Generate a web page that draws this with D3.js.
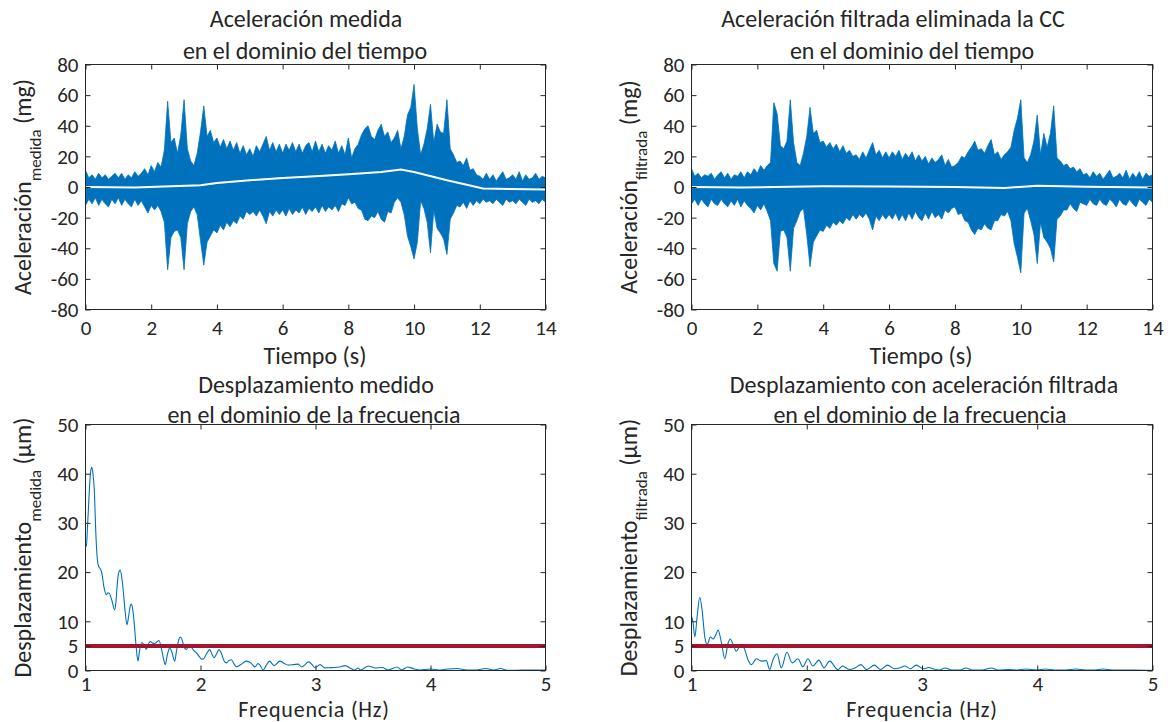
<!DOCTYPE html>
<html>
<head>
<meta charset="utf-8">
<script src="https://cdn.jsdelivr.net/npm/d3@7"></script>
<style>
  html, body { margin: 0; padding: 0; background: #ffffff; }
  svg { display: block; }
  text { font-family: Carlito, Calibri, Lato, sans-serif; font-weight: 300; fill: #262626; }
</style>
</head>
<body>
<svg id="fig" width="1171" height="722"></svg>
<script>
// ---------- data ----------
// sample instants of the time records (s), 0.1 s apart
const tiempo = d3.range(141).map(i => i / 10);

// measured acceleration: upper / lower envelope of the record (mg)
const medidaSup = [
  11, 6, 8, 5, 9, 6, 8, 5, 7, 9,
  6, 9, 5, 8, 6, 10, 7, 9, 12, 8,
  14, 10, 16, 13, 24, 56, 29, 32, 22, 34,
  57, 25, 17, 14, 22, 36, 53, 33, 37, 29,
  32, 26, 31, 25, 30, 24, 29, 22, 27, 21,
  25, 20, 27, 23, 28, 33, 24, 29, 23, 28,
  22, 28, 24, 29, 23, 28, 22, 27, 29, 23,
  30, 23, 28, 22, 27, 24, 30, 22, 27, 21,
  32, 19, 25, 28, 34, 38, 40, 33, 31, 37,
  41, 33, 36, 29, 32, 37, 25, 33, 47, 52,
  67, 38, 21, 28, 38, 54, 29, 41, 36, 35,
  57, 25, 21, 16, 17, 14, 19, 11, 12, 8,
  7, 5, 9, 5, 8, 4, 7, 10, 5, 6,
  8, 5, 10, 4, 8, 5, 6, 9, 5, 7,
  6
];
const medidaInf = [
  -12, -8, -11, -7, -12, -8, -11, -13, -8, -11,
  -7, -12, -8, -11, -13, -8, -12, -9, -13, -17,
  -12, -15, -12, -16, -23, -54, -33, -29, -28, -33,
  -54, -24, -16, -13, -18, -35, -51, -36, -32, -28,
  -30, -25, -28, -23, -26, -22, -24, -19, -21, -16,
  -18, -16, -19, -15, -19, -24, -16, -19, -15, -18,
  -15, -19, -14, -18, -15, -17, -13, -18, -14, -16,
  -13, -17, -12, -16, -13, -15, -12, -16, -11, -12,
  -7, -11, -10, -14, -15, -21, -22, -19, -20, -16,
  -21, -23, -16, -17, -10, -7, -10, -18, -32, -39,
  -47, -36, -9, -14, -23, -43, -15, -27, -30, -34,
  -44, -21, -17, -12, -13, -10, -14, -9, -12, -9,
  -11, -8, -10, -9, -11, -8, -10, -12, -8, -10,
  -9, -11, -8, -10, -12, -8, -10, -9, -11, -8,
  -10
];

// filtered acceleration (DC removed): upper / lower envelope (mg)
const filtradaSup = [
  12, 7, 9, 6, 8, 7, 9, 5, 8, 10,
  6, 9, 5, 8, 7, 10, 6, 10, 8, 12,
  9, 14, 11, 14, 16, 55, 48, 27, 25, 30,
  57, 29, 16, 14, 22, 33, 52, 35, 37, 29,
  30, 26, 29, 25, 28, 23, 27, 22, 24, 20,
  21, 18, 23, 19, 24, 29, 21, 24, 19, 23,
  19, 23, 20, 24, 18, 22, 19, 23, 17, 21,
  17, 20, 15, 19, 16, 18, 21, 14, 18, 13,
  14, 16, 20, 19, 23, 26, 30, 24, 25, 22,
  27, 31, 21, 23, 18, 21, 23, 26, 37, 45,
  57, 19, 16, 21, 30, 47, 21, 35, 26, 35,
  53, 19, 17, 14, 15, 12, 13, 10, 12, 8,
  9, 6, 10, 7, 9, 5, 8, 11, 6, 7,
  9, 6, 11, 5, 9, 6, 10, 5, 9, 7,
  8
];
const filtradaInf = [
  -11, -8, -12, -8, -11, -13, -8, -11, -12, -8,
  -11, -13, -9, -12, -8, -13, -9, -12, -14, -17,
  -12, -15, -11, -16, -22, -50, -55, -29, -28, -33,
  -55, -27, -22, -16, -14, -31, -52, -36, -32, -28,
  -29, -25, -27, -23, -25, -22, -24, -20, -22, -18,
  -21, -18, -20, -17, -21, -28, -19, -22, -18, -21,
  -18, -21, -17, -22, -18, -22, -17, -21, -16, -20,
  -22, -17, -21, -16, -20, -18, -21, -15, -17, -14,
  -13, -18, -17, -22, -23, -28, -31, -27, -28, -24,
  -27, -28, -22, -22, -18, -19, -16, -22, -37, -46,
  -56, -17, -14, -22, -31, -50, -23, -33, -36, -40,
  -49, -21, -19, -15, -15, -11, -14, -16, -10, -11,
  -12, -8, -11, -12, -8, -11, -12, -8, -10, -13,
  -8, -11, -12, -8, -11, -13, -8, -10, -12, -8,
  -10
];

// slow (DC) component of each record: [time s, mg]
const dcMedida = [
  [0, 0], [1.5, -0.4], [3.5, 1.1], [4, 2.6], [5, 4.4], [6, 5.9], [7, 7.0],
  [8, 8.3], [9, 9.8], [9.6, 11.4], [10, 9.8], [11, 4.4], [12.1, -1.0], [14, -1.7]
];
const dcFiltrada = [
  [0, 0], [1.5, -0.4], [2.5, 0], [4, 0.5], [6, 0.3], [8, 0], [9.5, -0.6],
  [10.5, 0.8], [12, 0.2], [14, -0.3]
];

// displacement spectra: [frequency Hz, µm]
const espectroMedida = [
  [1.000, 25.7], [1.008, 25.2], [1.015, 28.0], [1.029, 34.6], [1.045, 40.5], [1.055, 41.3],
  [1.065, 40.0], [1.078, 36.0], [1.088, 29.0], [1.097, 24.5], [1.113, 21.2], [1.125, 20.8],
  [1.142, 19.8], [1.160, 17.0], [1.180, 15.4], [1.195, 15.8], [1.209, 15.6], [1.230, 14.2],
  [1.253, 12.3], [1.265, 14.0], [1.276, 17.5], [1.290, 20.0], [1.302, 20.4], [1.315, 19.0],
  [1.325, 17.0], [1.345, 12.0], [1.360, 9.3], [1.375, 11.0], [1.390, 13.2], [1.398, 13.5],
  [1.410, 12.5], [1.421, 10.3], [1.440, 5.0], [1.456, 1.9], [1.470, 4.0], [1.490, 5.7],
  [1.510, 5.2], [1.529, 4.3], [1.545, 5.3], [1.564, 5.9], [1.580, 5.6], [1.600, 5.5],
  [1.620, 5.8], [1.639, 6.1], [1.660, 4.5], [1.680, 2.2], [1.694, 1.2], [1.710, 3.0],
  [1.732, 4.6], [1.750, 3.8], [1.776, 1.9], [1.790, 3.8], [1.810, 6.2], [1.825, 6.8],
  [1.840, 6.2], [1.860, 4.6], [1.877, 4.3], [1.895, 4.8], [1.912, 4.9], [1.940, 4.1],
  [1.964, 3.6], [1.990, 2.8], [2.010, 2.3], [2.028, 2.4], [2.050, 3.3], [2.080, 4.25],
  [2.100, 3.3], [2.118, 2.6], [2.140, 3.4], [2.160, 4.25], [2.180, 3.6], [2.200, 2.2],
  [2.226, 1.55], [2.250, 2.1], [2.270, 2.2], [2.290, 1.4], [2.313, 0.74], [2.350, 1.2],
  [2.400, 1.9], [2.440, 1.5], [2.473, 0.74], [2.500, 1.4], [2.520, 1.0], [2.545, 0.1],
  [2.570, 1.0], [2.600, 1.9], [2.640, 1.0], [2.690, 1.9], [2.730, 1.4], [2.763, 1.1],
  [2.810, 1.2], [2.850, 1.3], [2.880, 0.74], [2.910, 1.2], [2.937, 1.75], [2.970, 1.2],
  [2.995, 0.55], [3.040, 1.2], [3.080, 0.54], [3.110, 0.55], [3.150, 0.6], [3.210, 0.7],
  [3.260, 1.0], [3.300, 0.5], [3.340, 0.07], [3.370, 0.5], [3.390, 0.1], [3.460, 0.9],
  [3.520, 0.5], [3.580, 0.6], [3.630, 0.1], [3.710, 0.7], [3.750, 0.1], [3.800, 0.7],
  [3.860, 0.3], [3.910, 0.1], [4.000, 0.3], [4.070, 0.1], [4.150, 0.3], [4.230, 0.4],
  [4.320, 0.1], [4.400, 0.1], [4.480, 0.4], [4.550, 0.1], [4.610, 0.4], [4.670, 0.05],
  [4.740, 0.05], [4.850, 0.1], [5.000, 0.1]
];
const espectroFiltrada = [
  [1.000, 11.0], [1.012, 10.0], [1.029, 6.8], [1.049, 11.0], [1.072, 14.9], [1.092, 12.3],
  [1.115, 6.9], [1.136, 5.3], [1.165, 6.8], [1.188, 6.4], [1.210, 7.2], [1.231, 8.2],
  [1.260, 5.6], [1.289, 2.4], [1.318, 5.6], [1.338, 6.4], [1.360, 5.3], [1.390, 3.9],
  [1.420, 5.06], [1.439, 5.3], [1.460, 4.4], [1.490, 2.2], [1.520, 1.2], [1.563, 2.4],
  [1.606, 1.9], [1.649, 2.0], [1.678, 0.2], [1.707, 2.2], [1.742, 3.4], [1.779, 0.54],
  [1.828, 3.7], [1.874, 1.55], [1.924, 2.4], [1.966, 0.74], [2.010, 2.4], [2.053, 0.9],
  [2.105, 2.1], [2.150, 0.54], [2.198, 1.9], [2.270, 0.2], [2.310, 0.9], [2.370, 0.2],
  [2.420, 0.54], [2.470, 1.2], [2.520, 0.2], [2.587, 1.1], [2.640, 0.2], [2.700, 1.1],
  [2.760, 0.35], [2.810, 0.54], [2.850, 0.9], [2.900, 0.35], [2.950, 1.1], [3.010, 0.35],
  [3.060, 0.6], [3.100, 0.3], [3.150, 0.1], [3.200, 0.5], [3.260, 0.1], [3.330, 0.1],
  [3.380, 0.5], [3.440, 0.1], [3.520, 0.1], [3.600, 0.5], [3.660, 0.1], [3.750, 0.2],
  [3.830, 0.1], [3.900, 0.3], [4.000, 0.1], [4.070, 0.3], [4.150, 0.1], [4.250, 0.1],
  [4.330, 0.3], [4.420, 0.1], [4.500, 0.1], [4.570, 0.3], [4.650, 0.1], [4.750, 0.1],
  [4.850, 0.1], [5.000, 0.05]
];

// displacement limit (µm)
const umbral = 5;

// tick values
const ticksTiempo = [0, 2, 4, 6, 8, 10, 12, 14];
const ticksAcel = [-80, -60, -40, -20, 0, 20, 40, 60, 80];
const ticksFrec = [1, 2, 3, 4, 5];
const ticksDesp = [0, 5, 10, 20, 30, 40, 50];

// ---------- drawing ----------
const svg = d3.select("#fig");
const AXIS = "#262626";
const AZUL = "#0072BD";
const ROJO = "#A2142F";
const TICK_FONT = 21;
const LABEL_FONT = 24;

function styleAxis(sel) {
  sel.attr("font-family", null).attr("font-size", null);
  sel.select(".domain").remove();
  sel.selectAll(".tick line").attr("stroke", AXIS).attr("stroke-width", 1);
  sel.selectAll(".tick text").attr("fill", AXIS).style("font-size", TICK_FONT + "px");
}

function panel(p) {
  const x = d3.scaleLinear().domain(p.xDomain).range([p.left, p.right]);
  const y = d3.scaleLinear().domain(p.yDomain).range([p.bottom, p.top]);
  const g = svg.append("g");

  g.append("clipPath").attr("id", "clip-" + p.id)
    .append("rect")
    .attr("x", p.left).attr("y", p.top)
    .attr("width", p.right - p.left).attr("height", p.bottom - p.top);

  const plot = g.append("g").attr("clip-path", `url(#clip-${p.id})`);
  p.draw(plot, x, y);

  const fmt = d => String(d);
  g.append("g").attr("transform", `translate(0,${p.bottom})`)
    .call(d3.axisBottom(x).tickValues(p.xTicks).tickSize(-5).tickPadding(p.xPad).tickFormat(fmt))
    .call(styleAxis);
  g.append("g").attr("transform", `translate(0,${p.top})`)
    .call(d3.axisTop(x).tickValues(p.xTicks).tickSize(-5).tickFormat(""))
    .call(styleAxis);
  g.append("g").attr("transform", `translate(${p.left},0)`)
    .call(d3.axisLeft(y).tickValues(p.yTicks).tickSize(-5).tickPadding(7).tickFormat(fmt))
    .call(styleAxis);
  g.append("g").attr("transform", `translate(${p.right},0)`)
    .call(d3.axisRight(y).tickValues(p.yTicks).tickSize(-5).tickFormat(""))
    .call(styleAxis);

  g.append("rect")
    .attr("x", p.left).attr("y", p.top)
    .attr("width", p.right - p.left).attr("height", p.bottom - p.top)
    .attr("fill", "none").attr("stroke", AXIS).attr("stroke-width", 1);

  // two-line title
  p.title.forEach((t, i) => {
    g.append("text")
      .attr("x", t.cx).attr("y", p.titleY[i])
      .attr("text-anchor", "middle")
      .style("font-size", LABEL_FONT + "px")
      .text(t.text);
  });

  // x label
  g.append("text")
    .attr("x", p.xLabelX).attr("y", p.xLabelY)
    .attr("text-anchor", "middle")
    .style("font-size", p.xLabelFont + "px")
    .style("letter-spacing", p.xLabelSpacing + "px")
    .text(p.xLabel);

  // y label with subscript
  const yl = g.append("text")
    .attr("transform", `translate(${p.left - 55},${(p.top + p.bottom) / 2}) rotate(-90)`)
    .attr("text-anchor", "middle")
    .style("font-size", LABEL_FONT + "px");
  yl.append("tspan").text(p.yLabel[0]);
  yl.append("tspan").attr("dy", 10).style("font-size", "17px").text(p.yLabel[1]);
  yl.append("tspan").attr("dy", -10).text("\u00a0" + p.yLabel[2]);
}

function senal(sup, inf, dc) {
  return (plot, x, y) => {
    const area = d3.area()
      .x((d, i) => x(tiempo[i]))
      .y0((d, i) => y(inf[i]))
      .y1((d, i) => y(sup[i]));
    plot.append("path").datum(sup)
      .attr("d", area)
      .attr("fill", AZUL).attr("stroke", AZUL).attr("stroke-width", 0.8)
      .attr("stroke-linejoin", "miter");
    const linea = d3.line().x(d => x(d[0])).y(d => y(d[1]));
    plot.append("path").datum(dc)
      .attr("d", linea)
      .attr("fill", "none").attr("stroke", "#ffffff").attr("stroke-width", 2);
  };
}

function espectro(datos) {
  return (plot, x, y) => {
    const linea = d3.line().curve(d3.curveMonotoneX).x(d => x(d[0])).y(d => y(d[1]));
    plot.append("path").datum(datos)
      .attr("d", linea)
      .attr("fill", "none").attr("stroke", AZUL).attr("stroke-width", 1.1);
    plot.append("line")
      .attr("x1", x.range()[0]).attr("x2", x.range()[1])
      .attr("y1", y(umbral)).attr("y2", y(umbral))
      .attr("stroke", ROJO).attr("stroke-width", 4);
  };
}

const L = { left: 85.5, right: 545.5 };
const R = { left: 691.5, right: 1152.5 };
const TOP = { top: 64.5, bottom: 309.5, xPad: 11, xLabelFont: 24, xLabelSpacing: 0, xLabelY: 364, titleY: [27, 58.5] };
const BOT = { top: 424.5, bottom: 670.5, xPad: 6, xLabelFont: 22, xLabelSpacing: 0.8, xLabelY: 717, titleY: [392.5, 423] };

panel({
  id: "a", ...L, ...TOP,
  xDomain: [0, 14], yDomain: [-80, 80], xTicks: ticksTiempo, yTicks: ticksAcel,
  draw: senal(medidaSup, medidaInf, dcMedida),
  title: [{ text: "Aceleración medida", cx: 306 }, { text: "en el dominio del tiempo", cx: 305 }],
  xLabel: "Tiempo (s)", xLabelX: 315,
  yLabel: ["Aceleración", "medida", "(mg)"]
});

panel({
  id: "b", ...R, ...TOP,
  xDomain: [0, 14], yDomain: [-80, 80], xTicks: ticksTiempo, yTicks: ticksAcel,
  draw: senal(filtradaSup, filtradaInf, dcFiltrada),
  title: [{ text: "Aceleración filtrada eliminada la CC", cx: 893 }, { text: "en el dominio del tiempo", cx: 912 }],
  xLabel: "Tiempo (s)", xLabelX: 921,
  yLabel: ["Aceleración", "filtrada", "(mg)"]
});

panel({
  id: "c", ...L, ...BOT,
  xDomain: [1, 5], yDomain: [0, 50], xTicks: ticksFrec, yTicks: ticksDesp,
  draw: espectro(espectroMedida),
  title: [{ text: "Desplazamiento medido", cx: 316 }, { text: "en el dominio de la frecuencia", cx: 314 }],
  xLabel: "Frequencia (Hz)", xLabelX: 314,
  yLabel: ["Desplazamiento", "medida", "(\u00b5m)"]
});

panel({
  id: "d", ...R, ...BOT,
  xDomain: [1, 5], yDomain: [0, 50], xTicks: ticksFrec, yTicks: ticksDesp,
  draw: espectro(espectroFiltrada),
  title: [{ text: "Desplazamiento con aceleración filtrada", cx: 924 }, { text: "en el dominio de la frecuencia", cx: 920 }],
  xLabel: "Frequencia (Hz)", xLabelX: 922,
  yLabel: ["Desplazamiento", "filtrada", "(\u00b5m)"]
});
</script>
</body>
</html>
